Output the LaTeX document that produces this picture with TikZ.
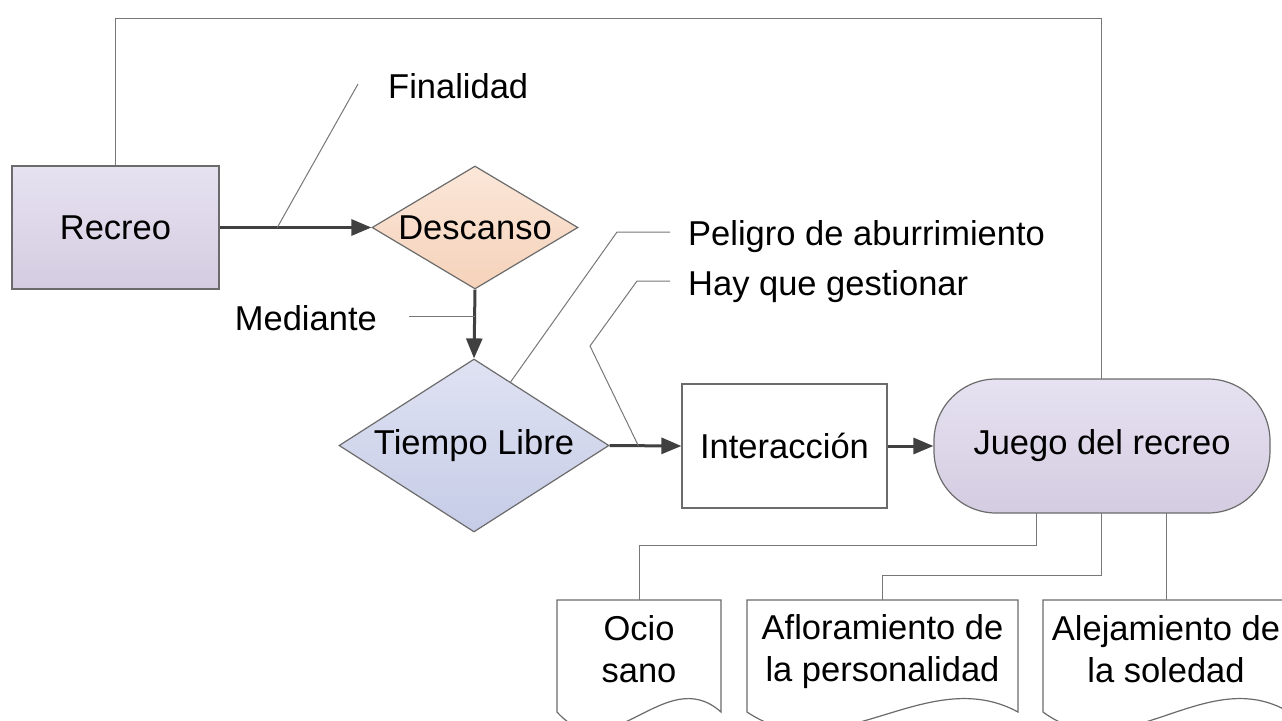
\documentclass[tikz,border=0pt]{standalone}
\usepackage{fontspec}
\setmainfont{Liberation Sans}
\usetikzlibrary{arrows.meta,shapes.geometric,calc}
\definecolor{edgec}{HTML}{6B6B6B}
\definecolor{thinc}{HTML}{777777}
\definecolor{arrowc}{HTML}{404040}
\definecolor{lavtop}{HTML}{E6E2F1}
\definecolor{lavbot}{HTML}{D4CCE1}
\definecolor{peachtop}{HTML}{FBE7D9}
\definecolor{peachbot}{HTML}{F5D2BA}
\definecolor{bluetop}{HTML}{DFE2F2}
\definecolor{bluebot}{HTML}{C6CCE7}
\begin{document}
\begin{tikzpicture}[x=1pt,y=-1pt,
  lbl/.style={font=\fontsize{34.5}{42}\selectfont, inner sep=0pt},
  shapeline/.style={draw=edgec, line width=1.2pt},
  flow/.style={draw=arrowc, line width=3pt, -{Triangle[length=20pt,width=16pt]}},
  leader/.style={draw=thinc, line width=1pt},
  docline/.style={draw=edgec, line width=1.2pt, fill=white},
  ]
\useasboundingbox (0,0) rectangle (1282,720);
\clip (0,0) rectangle (1282,720);

% main shapes
\node[shapeline, rectangle, minimum width=207, minimum height=123, top color=lavtop, bottom color=lavbot, inner sep=0pt] (recreo) at (115.5,227.5) {};
\node[lbl] at (recreo) {Recreo};

\node[shapeline, diamond, minimum width=206, minimum height=123, top color=peachtop, bottom color=peachbot, inner sep=0pt] (desc) at (475,227.5) {};
\node[lbl] at (desc) {Descanso};

\node[shapeline, diamond, minimum width=270, minimum height=173, top color=bluetop, bottom color=bluebot, inner sep=0pt] (tl) at (474,445.5) {};
\node[lbl] at (tl) {Tiempo Libre};

\node[shapeline, rectangle, minimum width=205, minimum height=124, fill=white, inner sep=0pt] (inter) at (784.5,446) {};
\node[lbl] at (inter) {Interacción};

\node[shapeline, rectangle, rounded corners=62pt, minimum width=336, minimum height=134, top color=lavtop, bottom color=lavbot, inner sep=0pt] (juego) at (1102,446) {};
\node[lbl] at (juego) {Juego del recreo};

% documents
\draw[docline] (557,712) -- (557,600) -- (721,600) -- (721,712) .. controls (665,662) and (611,772) .. (557,712) -- cycle;
\draw[docline] (747,712) -- (747,600) -- (1018,600) -- (1018,712) .. controls (926,662) and (836,772) .. (747,712) -- cycle;
\draw[docline] (1043,712) -- (1043,600) -- (1289,600) -- (1289,712) .. controls (1205,662) and (1124,772) .. (1043,712) -- cycle;
\node[lbl, align=center] (ocio) at (639,649) {Ocio\\sano};
\node[lbl, align=center] (aflor) at (882.5,652) {Afloramiento de\\la personalidad};
\node[lbl, align=center] (alej) at (1166,649) {Alejamiento de\\la soledad};
\coordinate (ocioT) at (639,600);
\coordinate (aflorT) at (882,600);
\coordinate (alejT) at (1166,600);

% text labels
\node[lbl, anchor=base west] (fin) at (388,98) {Finalidad};
\node[lbl, anchor=base east] (med) at (377,330) {Mediante};
\node[lbl, anchor=base west] (pel) at (688,245) {Peligro de aburrimiento};
\node[lbl, anchor=base west] (hay) at (688,295) {Hay que gestionar};

% flow arrows
\draw[flow] (recreo.east) -- (desc.west);
\draw[flow] (desc.south) -- (tl.north);
\draw[flow] (tl.east) -- (inter.west);
\draw[flow] (inter.east) -- (juego.west);

% leaders
\path (recreo.east) -- (desc.west) coordinate[pos=0.38] (a1);
\coordinate (finL) at (358,84);
\draw[leader] (finL) -- (a1);

\coordinate (medL) at (409,316);
\coordinate (medR) at (475,316);
\draw[leader] (medL) -- (medR);

\coordinate (pelA) at (670,232);
\coordinate (pelB) at (617,232);
\coordinate (pelC) at ($(tl.north)!0.27!(tl.east)$);
\draw[leader] (pelA) -- (pelB) -- (pelC);

\path (tl.east) -- (inter.west) coordinate[pos=0.4] (a2);
\coordinate (hayA) at (670,281);
\coordinate (hayB) at (637,281);
\coordinate (hayC) at (590,346);
\draw[leader] (hayA) -- (hayB) -- (hayC) -- (a2);

% loop back from Juego to Recreo
\coordinate (jtop) at (1101,379);
\coordinate (topR) at (1101,18);
\coordinate (topL) at (115.5,18);
\draw[leader] (jtop) -- (topR) -- (topL) -- (recreo.north);

% Juego to documents
\coordinate (j1) at (1036,513);
\coordinate (j1b) at (1036,545);
\draw[leader] (j1) -- (j1b) -| (ocioT);
\coordinate (j2) at (1101,513);
\coordinate (j2b) at (1101,575);
\draw[leader] (j2) -- (j2b) -| (aflorT);
\coordinate (j3) at (1166,513);
\draw[leader] (j3) -- (alejT);
\end{tikzpicture}
\end{document}
